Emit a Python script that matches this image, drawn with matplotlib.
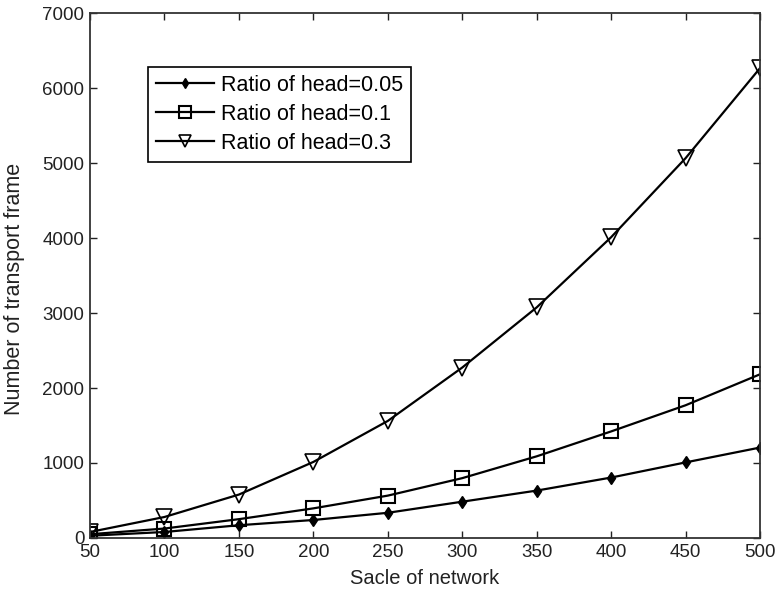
import numpy as np
import matplotlib.pyplot as plt

plt.rcParams['font.family'] = ['Liberation Sans', 'DejaVu Sans']

# network scale and transport frame counts for each head ratio
scale = [50, 100, 150, 200, 250, 300, 350, 400, 450, 500]
head_005 = [30, 80, 170, 240, 336, 484, 632, 806, 1008, 1206]
head_01 = [50, 126, 251, 395, 565, 798, 1089, 1421, 1770, 2183]
head_03 = [80, 280, 579, 1014, 1561, 2273, 3075, 4011, 5065, 6266]

fig = plt.figure(figsize=(7.78, 5.94), dpi=100)
ax = fig.add_axes([0.1157, 0.0943, 0.8612, 0.8837])

ax.plot(scale, head_005, color='black', lw=1.6, marker='d', ms=6,
        mfc='black', mec='black', label='Ratio of head=0.05')
ax.plot(scale, head_01, color='black', lw=1.6, marker='s', ms=10,
        mfc='none', mec='black', mew=1.5, label='Ratio of head=0.1')
ax.plot(scale, head_03, color='black', lw=1.6, marker='v', ms=11,
        mfc='none', mec='black', mew=1.2, label='Ratio of head=0.3')

ax.set_xlim(50, 500)
ax.set_ylim(0, 7000)
ax.set_xticks(np.arange(50, 501, 50))
ax.set_yticks(np.arange(0, 7001, 1000))
ax.tick_params(direction='in', top=True, right=True, length=5, width=1,
               labelsize=13.5, colors='#222222', pad=4)
for s in ax.spines.values():
    s.set_linewidth(1.3)
    s.set_color('#333333')

ax.set_xlabel('Sacle of network', fontsize=14.5, color='#222222', labelpad=6)
ax.set_ylabel('Number of transport frame', fontsize=15.5, color='#222222')
ax.yaxis.set_label_coords(-0.097, 0.474)

leg = ax.legend(loc='upper left', bbox_to_anchor=(0.0866, 0.897),
                fontsize=15.5, fancybox=False, edgecolor='black',
                framealpha=1, borderpad=0.35, labelspacing=0.38,
                handlelength=2.7, handletextpad=0.35, borderaxespad=0,
                markerscale=0.85)
leg.get_frame().set_linewidth(1.2)

fig.savefig('out.png', dpi=100)
